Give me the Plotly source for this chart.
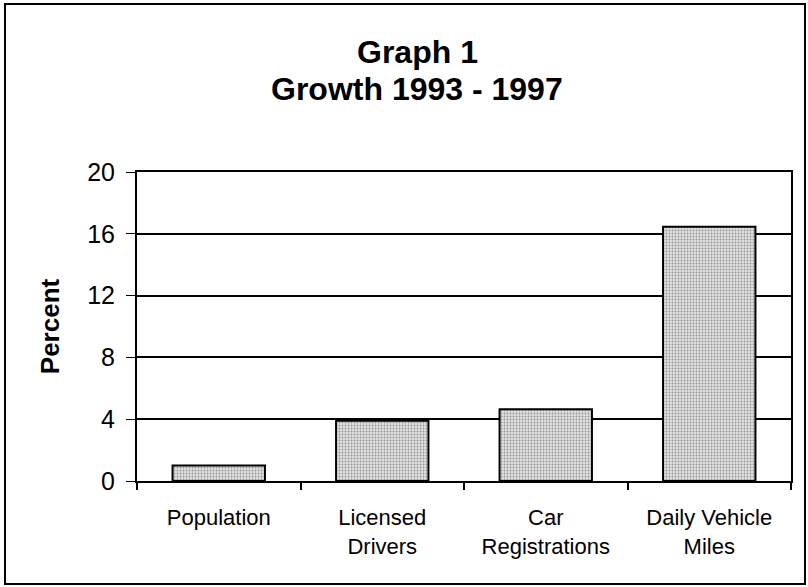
import plotly.graph_objects as go

categories = ["Population", "Licensed<br>Drivers", "Car<br>Registrations", "Daily Vehicle<br>Miles"]
growth_pct = [1.0, 3.9, 4.65, 16.45]
y_ticks = [0, 4, 8, 12, 16, 20]
title_lines = ["Graph 1", "Growth 1993 - 1997"]
y_title = "Percent"

FONT = "Liberation Sans, Arial, sans-serif"

fig = go.Figure()
fig.add_trace(go.Bar(
    x=categories,
    y=growth_pct,
    marker=dict(
        color="#dedede",
        line=dict(color="black", width=2),
        pattern=dict(shape=".", fgcolor="#4a4a4a", bgcolor="#e0e0e0", size=3, solidity=0.3),
    ),
    width=0.565,
))

W, H = 808, 587
L, R, T, B = 137, 808 - 791, 172, 587 - 481
pw, ph = W - L - R, H - T - B

def px_x(px):
    return (px - L) / pw

def px_y(py):
    return (H - B - py) / ph

fig.update_layout(
    width=W, height=H,
    margin=dict(l=L, r=R, t=T, b=B),
    paper_bgcolor="white", plot_bgcolor="white",
    showlegend=False,
    font=dict(family=FONT, color="black"),
    xaxis=dict(
        type="category",
        showline=True, linecolor="black", linewidth=2, mirror=True,
        ticks="outside", tickson="boundaries", ticklen=7, tickwidth=2, tickcolor="black",
        tickfont=dict(size=22, family=FONT),
        ticklabelstandoff=16,
        showgrid=False,
    ),
    yaxis=dict(
        range=[0, 20],
        tickvals=y_ticks,
        showline=True, linecolor="black", linewidth=2, mirror=True,
        ticks="outside", ticklen=9, tickwidth=1, tickcolor="black",
        tickfont=dict(size=25, family=FONT),
        ticklabelstandoff=6,
        showgrid=True, gridcolor="black", gridwidth=2,
        zeroline=False,
        title=dict(text="<b>" + y_title + "</b>", font=dict(size=26, family=FONT), standoff=20),
    ),
)

# title lines
for i, line in enumerate(title_lines):
    fig.add_annotation(
        text="<b>" + line + "</b>", xref="paper", yref="paper",
        x=px_x(417), y=px_y(52 + i * 37), xanchor="center", yanchor="middle",
        showarrow=False, font=dict(size=32, family=FONT, color="black"),
    )

# outer border
fig.add_shape(type="rect", xref="paper", yref="paper",
              x0=px_x(5), x1=px_x(805), y0=px_y(584), y1=px_y(4),
              line=dict(color="black", width=2), layer="below")

fig.write_html("out.html", config={"displayModeBar": False},
               post_script="document.body.style.margin='0';document.body.style.overflow='hidden';")
